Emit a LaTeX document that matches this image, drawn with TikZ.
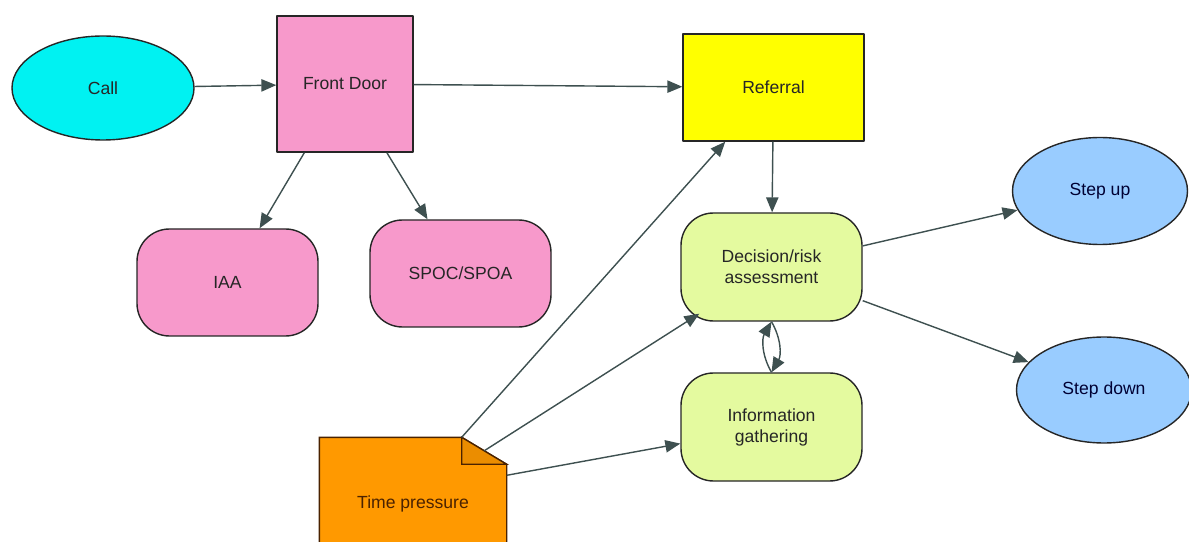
\documentclass[tikz,border=0pt]{standalone}
\usepackage{fontspec}
\setmainfont{Liberation Sans}
\usetikzlibrary{arrows.meta,shapes.geometric,calc,backgrounds}
\definecolor{callcyan}{HTML}{00F2F2}
\definecolor{doorpink}{HTML}{F799CB}
\definecolor{refyellow}{HTML}{FFFF00}
\definecolor{riskgreen}{HTML}{E4FA9F}
\definecolor{stepblue}{HTML}{99CCFF}
\definecolor{noteorange}{HTML}{FF9900}
\definecolor{noteedge}{HTML}{4A2200}
\definecolor{linkgrey}{HTML}{3E5050}
\begin{document}
\begin{tikzpicture}[>={Triangle[length=8.5pt,width=7pt]},line join=round,font=\fontsize{10}{12}\selectfont,
    outline/.style={draw=black!85,line width=0.8pt,text=black!85,align=center,inner sep=2pt},
    oval/.style={outline,ellipse,minimum width=3.64cm,minimum height=2.08cm},
    box/.style={outline,rectangle,minimum width=3.62cm,minimum height=2.14cm},
    soft/.style={box,rounded corners=0.65cm},
    link/.style={->,draw=linkgrey,line width=0.8pt}]
    \useasboundingbox (0,0) rectangle (23.78,10.82);
    % top row
    \node[oval,fill=callcyan] (call) at (2.06,9.06) {Call};
    \node[box,fill=doorpink,minimum width=2.72cm,minimum height=2.72cm] (front) at (6.9,9.14) {Front Door};
    \node[box,fill=refyellow] (referral) at (15.47,9.07) {Referral};
    % front door branches
    \node[soft,fill=doorpink] (iaa) at (4.55,5.17) {IAA};
    \node[soft,fill=doorpink] (spoc) at (9.21,5.35) {SPOC/SPOA};
    % assessment loop
    \node[soft,fill=riskgreen,minimum height=2.16cm] (decision) at (15.43,5.48) {Decision/risk\\assessment};
    \node[soft,fill=riskgreen,minimum height=2.16cm] (info) at (15.43,2.28) {Information\\gathering};
    \node[oval,fill=stepblue,text=blue!20!black,minimum width=3.5cm,minimum height=2.14cm] (stepup) at (22.0,7.0) {Step up};
    \node[oval,fill=stepblue,text=blue!20!black,minimum width=3.5cm,minimum height=2.12cm] (stepdown) at (22.08,3.02) {Step down};
    % note with folded corner
    \node[outline,draw=none,text=noteedge,minimum width=3.72cm,minimum height=2.64cm] (time) at (8.26,0.74) {Time pressure};
    \coordinate (foldtop) at ([xshift=-0.9cm]time.north east);
    \coordinate (foldside) at ([yshift=-0.54cm]time.north east);
    \coordinate (foldmid) at ($(foldtop)!0.5!(foldside)$);
    \coordinate (noteside) at ([yshift=-0.76cm]time.north east);
    \begin{scope}[on background layer]
        \filldraw[fill=noteorange,draw=noteedge,line width=0.8pt] (time.south west) |- (foldtop) -- (foldside) -- (time.south east) -- cycle;
        \filldraw[fill=noteorange!92!black,draw=noteedge,line width=0.8pt] (foldtop) |- (foldside) -- cycle;
    \end{scope}
    % connectors
    \draw[link] (call) -- (front);
    \draw[link] (front) -- (referral);
    \draw[link] (front) -- (iaa);
    \draw[link] (front) -- (spoc);
    \draw[link] (referral) -- (decision);
    \draw[link] (decision) -- (stepup);
    \draw[link] (decision) -- (stepdown);
    \draw[link] (info.north) to[bend left=30] (decision.south);
    \draw[link] (decision.south) to[bend left=30] (info.north);
    \draw[link] (foldtop) -- (referral);
    \draw[link] (foldmid) -- ([shift={(0.38cm,0.16cm)}]decision.south west);
    \draw[link] (noteside) -- (info);
\end{tikzpicture}
\end{document}
